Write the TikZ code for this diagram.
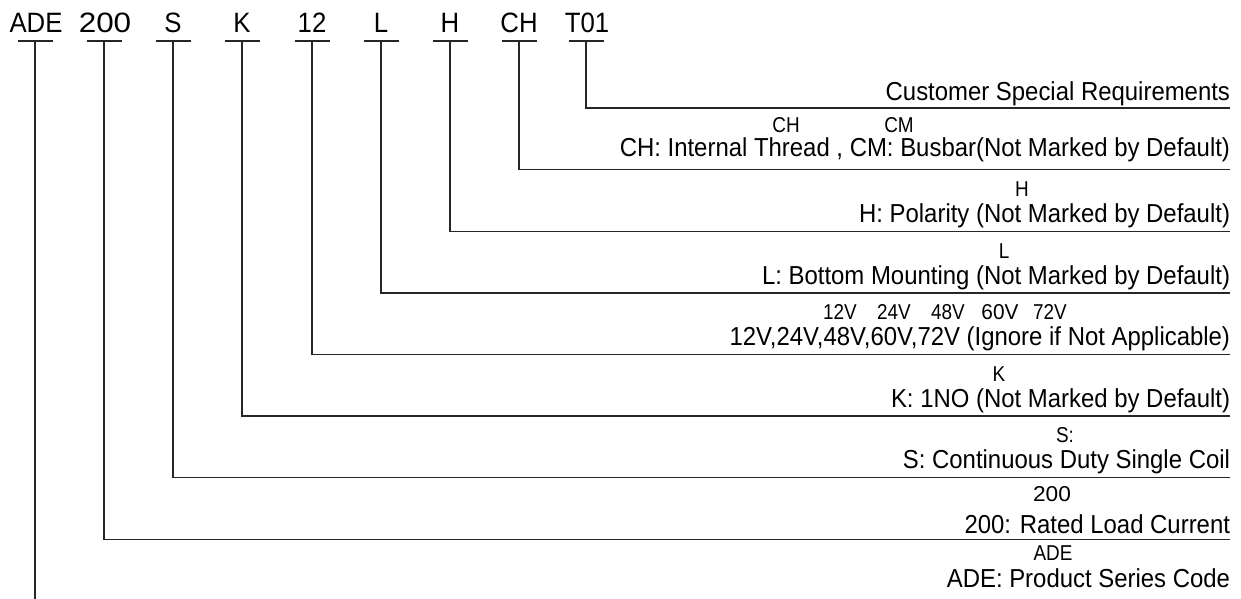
\documentclass[tikz,border=0pt]{standalone}
\usepackage{fontspec}
\setmainfont{Liberation Sans}
\newfontfamily\codefont[FakeStretch=0.92]{Liberation Sans}
\newfontfamily\labfont[FakeStretch=0.92]{Liberation Sans}
\newfontfamily\subfont[FakeStretch=0.88]{Liberation Sans}
\begin{document}
\begin{tikzpicture}[x=1pt,y=-1pt,
  code/.style={inner sep=0pt,outer sep=0pt,anchor=base,font=\codefont\fontsize{28}{30}\selectfont},
  lab/.style={inner sep=0pt,outer sep=0pt,anchor=base east,font=\labfont\fontsize{26}{30}\selectfont},
  sub/.style={inner sep=0pt,outer sep=0pt,anchor=base,font=\subfont\fontsize{21.5}{24}\selectfont},
  wire/.style={line width=1.3pt,draw=black!85}]
\useasboundingbox (0,0) rectangle (1241,599);
% top code
\node[code] (cADE) at (36,33) {ADE};
\node[code] (c200) at (105,33) {\scalebox{1.22}[1]{200}};
\node[code] (cS)   at (173,33) {S};
\node[code] (cK)   at (242,33) {K};
\node[code] (c12)  at (312,33) {12};
\node[code] (cL)   at (381,33) {L};
\node[code] (cH)   at (450,33) {H};
\node[code] (cCH)  at (519,33) {CH};
\node[code] (cT)   at (587,33) {T01};
% underline coordinates and line corners
\foreach \n/\x/\y in {200/104/539.5, S/173/477.8, K/242/416, 12/312/354.5, L/381/292.9, H/450/231.3, CH/519/169.6, T/586/108}{
  \coordinate (ul\n) at (\x-17.5,41);
  \coordinate (ur\n) at (\x+17.5,41);
  \coordinate (u\n) at (\x,41);
  \coordinate (h\n) at (\x,\y);
  \coordinate (e\n) at (1230,\y);
  \draw[wire] (ul\n) -- (ur\n);
  \draw[wire] (u\n) -- (h\n) -- (e\n);
}
\coordinate (ulADE) at (17.5,41);
\coordinate (urADE) at (52.5,41);
\coordinate (uADE) at (35,41);
\coordinate (bADE) at (35,599);
\draw[wire] (ulADE) -- (urADE);
\draw[wire] (uADE) -- (bADE);
% labels
\node[lab] (lT)   at (1230,101) {Customer Special Requirements};
\node[sub] (sCH1) at (786,132) {CH};
\node[sub] (sCH2) at (899,132) {CM};
\node[lab] (lCH)  at (1230,156) {CH: Internal Thread , CM: Busbar(Not Marked by Default)};
\node[sub] (sH)   at (1022,196) {H};
\node[lab] (lH)   at (1230,222) {H: Polarity (Not Marked by Default)};
\node[sub] (sL)   at (1004,258) {L};
\node[lab] (lL)   at (1230,284) {L: Bottom Mounting (Not Marked by Default)};
\node[sub] (s12a) at (840,319) {12V};
\node[sub] (s12b) at (894,319) {24V};
\node[sub] (s12c) at (948,319) {48V};
\node[sub] (s12d) at (1000,319) {\scalebox{1.1}[1]{60V}};
\node[sub] (s12e) at (1050,319) {72V};
\node[lab] (l12)  at (1230,345) {12V,24V,48V,60V,72V (Ignore if Not Applicable)};
\node[sub] (sK)   at (999,381) {K};
\node[lab] (lK)   at (1230,407) {K: 1NO (Not Marked by Default)};
\node[sub] (sS)   at (1065,442) {S:};
\node[lab] (lS)   at (1230,468) {S: Continuous Duty Single Coil};
\node[sub] (s200) at (1052,501) {\scalebox{1.2}[1]{200}};
\node[lab] (l200) at (1230,533) {200: Rated Load Current};
\node[sub] (sADE) at (1053,560) {ADE};
\node[lab] (lADE) at (1230,587) {ADE: Product Series Code};
\end{tikzpicture}
\end{document}
